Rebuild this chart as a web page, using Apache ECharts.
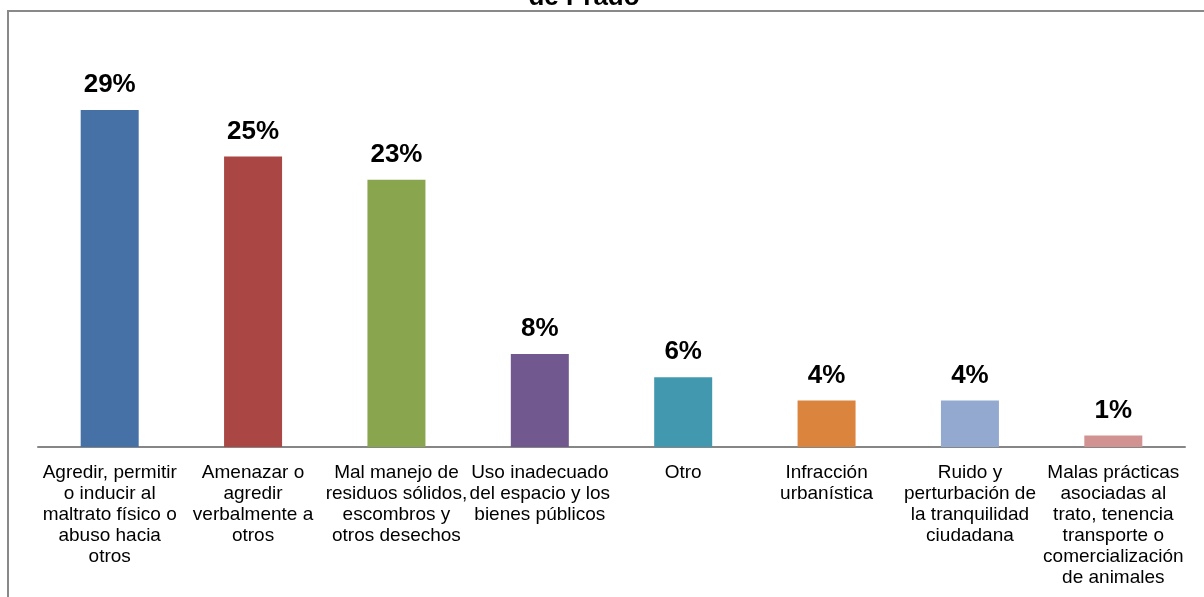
<!DOCTYPE html>
<html>
<head>
<meta charset="utf-8">
<script src="https://cdn.jsdelivr.net/npm/echarts@6/dist/echarts.min.js"></script>
<style>
html,body{margin:0;padding:0;background:#fff;}
#chart{width:1204px;height:597px;}
</style>
</head>
<body>
<div id="chart"></div>
<script>
const titleText = 'de Prado';
const categories = [
  'Agredir, permitir\no inducir al\nmaltrato físico o\nabuso hacia\notros',
  'Amenazar o\nagredir\nverbalmente a\notros',
  'Mal manejo de\nresiduos sólidos,\nescombros y\notros desechos',
  'Uso inadecuado\ndel espacio y los\nbienes públicos',
  'Otro',
  'Infracción\nurbanística',
  'Ruido y\nperturbación de\nla tranquilidad\nciudadana',
  'Malas prácticas\nasociadas al\ntrato, tenencia\ntransporte o\ncomercialización\nde animales'
];
const values = [29, 25, 23, 8, 6, 4, 4, 1];
const colors = ['#4571A7', '#AA4644', '#89A54E', '#71588F', '#4298AF', '#DB843D', '#93A9CF', '#D19392'];

const chart = echarts.init(document.getElementById('chart'));
chart.setOption({
  animation: false,
  graphic: [
    {
      type: 'rect',
      shape: { x: 8, y: 11, width: 1400, height: 800 },
      style: { fill: 'none', stroke: '#898989', lineWidth: 2 },
      silent: true
    },
    {
      type: 'text',
      x: 584, y: 11,
      style: {
        text: titleText,
        fill: '#000',
        font: 'bold 26px "Liberation Sans", Arial, sans-serif',
        textAlign: 'center',
        textVerticalAlign: 'bottom'
      }
    }
  ],
  grid: { left: 38, right: 19, top: 98.4, bottom: 150, containLabel: false },
  xAxis: {
    type: 'category',
    data: categories,
    axisLine: { show: true, lineStyle: { color: '#868686', width: 2 } },
    axisTick: { show: false },
    axisLabel: {
      interval: 0,
      margin: 15,
      color: '#000',
      fontFamily: '"Liberation Sans", Arial, sans-serif',
      fontSize: 19,
      lineHeight: 21,
      align: 'center'
    }
  },
  yAxis: {
    type: 'value',
    min: 0, max: 30,
    show: false,
    splitLine: { show: false }
  },
  series: [{
    type: 'bar',
    barWidth: 58,
    data: values.map((v, i) => ({ value: v, itemStyle: { color: colors[i] } })),
    label: {
      show: true,
      position: 'top',
      distance: 12,
      formatter: p => p.value + '%',
      color: '#000',
      fontWeight: 'bold',
      fontSize: 26,
      fontFamily: '"Liberation Sans", Arial, sans-serif'
    }
  }]
});
</script>
</body>
</html>
